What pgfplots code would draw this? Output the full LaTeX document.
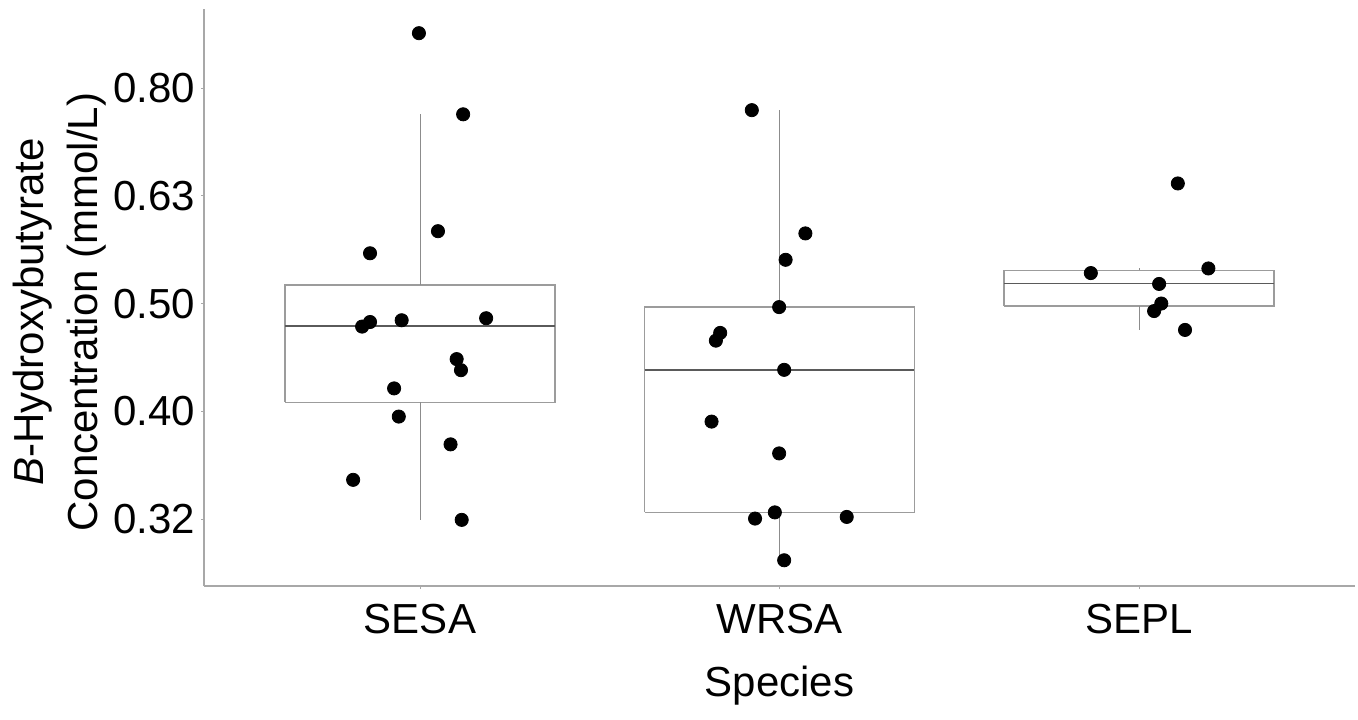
\documentclass[border=0pt]{standalone}
\usepackage{fontspec}
\setmainfont{Liberation Sans}
\usepackage{pgfplots}
\usepackage{pgfplotstable}
\pgfplotsset{compat=1.18}

\definecolor{axisgray}{HTML}{A8A8A8}
\definecolor{boxgray}{HTML}{9C9C9C}
\definecolor{mediangray}{HTML}{5A5A5A}
\definecolor{whiskgray}{HTML}{8C8C8C}

% jittered observations (x = jittered category position, y = mmol/L)
\pgfplotstableread{
x      y
0.997  0.893
1.120  0.751
1.050  0.585
0.861  0.558
0.839  0.4771
0.861  0.4818
0.949  0.4836
1.184  0.4857
1.102  0.4451
1.114  0.4347
0.928  0.4181
0.941  0.3937
1.085  0.3710
0.814  0.3439
1.116  0.3157
}\sesa
\pgfplotstableread{
x      y
1.923  0.7577
2.072  0.5822
2.017  0.5503
1.999  0.4974
1.835  0.4707
1.823  0.4630
2.013  0.4350
1.811  0.3895
1.999  0.3639
1.987  0.3208
1.932  0.3166
2.187  0.3177
2.013  0.2896
}\wrsa
\pgfplotstableread{
x      y
3.108  0.6478
3.193  0.5402
2.866  0.5349
3.056  0.5226
3.062  0.5012
3.042  0.4932
3.128  0.4737
}\sepl

\begin{document}
\begin{tikzpicture}
\useasboundingbox (-102.15pt,-66.5pt) rectangle (576.85pt,293pt);
\begin{axis}[
  scale only axis,
  width=575.2pt, height=288.35pt,
  ymode=log, ymin=0.2741, ymax=0.9397,
  xmin=0.4, xmax=3.6,
  clip=false,
  axis lines*=left,
  axis line style={draw=axisgray, line width=1pt},
  xtick={1,2,3}, xticklabels={SESA,WRSA,SEPL},
  ytick={0.316228,0.398107,0.501187,0.630957,0.794328},
  yticklabels={0.32,0.40,0.50,0.63,0.80},
  yminorticks=false, xminorticks=false,
  tick align=outside, major tick length=1.5pt,
  tick style={draw=axisgray, line width=0.5pt},
  tick label style={font=\fontsize{21}{25}\selectfont, inner sep=0pt},
  xticklabel style={anchor=north, yshift=-7.5pt},
  yticklabel style={anchor=east, xshift=-2.9pt},
  label style={inner sep=0pt},
  xlabel={Species},
  xlabel style={font=\fontsize{21}{25}\selectfont, at={(axis description cs:0.5,0)}, anchor=north, yshift=-40pt},
  ylabel={\textit{B}-Hydroxybutyrate\\Concentration (mmol/L)},
  ylabel style={font=\fontsize{21}{27.3}\selectfont,
    at={(axis description cs:-0.0846,0.475)}, anchor=south, align=center},
]
% SESA box: quartiles, median, whiskers
\addplot[draw=boxgray, line width=0.75pt] coordinates {(0.625,0.4058) (1.375,0.4058) (1.375,0.5215) (0.625,0.5215) (0.625,0.4058)};
\addplot[draw=mediangray, line width=0.8pt] coordinates {(0.625,0.4776) (1.375,0.4776)};
\addplot[draw=whiskgray, line width=0.5pt] coordinates {(1,0.5215) (1,0.751)};
\addplot[draw=whiskgray, line width=0.5pt] coordinates {(1,0.4058) (1,0.3157)};
% WRSA box
\addplot[draw=boxgray, line width=0.75pt] coordinates {(1.625,0.3208) (2.375,0.3208) (2.375,0.4977) (1.625,0.4977) (1.625,0.3208)};
\addplot[draw=mediangray, line width=0.8pt] coordinates {(1.625,0.4350) (2.375,0.4350)};
\addplot[draw=whiskgray, line width=0.5pt] coordinates {(2,0.4977) (2,0.7577)};
\addplot[draw=whiskgray, line width=0.5pt] coordinates {(2,0.3208) (2,0.2896)};
% SEPL box
\addplot[draw=boxgray, line width=0.75pt] coordinates {(2.625,0.4985) (3.375,0.4985) (3.375,0.5380) (2.625,0.5380) (2.625,0.4985)};
\addplot[draw=mediangray, line width=0.8pt] coordinates {(2.625,0.5233) (3.375,0.5233)};
\addplot[draw=whiskgray, line width=0.5pt] coordinates {(3,0.5380) (3,0.5402)};
\addplot[draw=whiskgray, line width=0.5pt] coordinates {(3,0.4985) (3,0.4737)};

\addplot[only marks, mark=*, mark size=3.3pt, draw=black, fill=black] table[x=x, y=y] {\sesa};
\addplot[only marks, mark=*, mark size=3.3pt, draw=black, fill=black] table[x=x, y=y] {\wrsa};
\addplot[only marks, mark=*, mark size=3.3pt, draw=black, fill=black] table[x=x, y=y] {\sepl};
\end{axis}
\end{tikzpicture}
\end{document}
